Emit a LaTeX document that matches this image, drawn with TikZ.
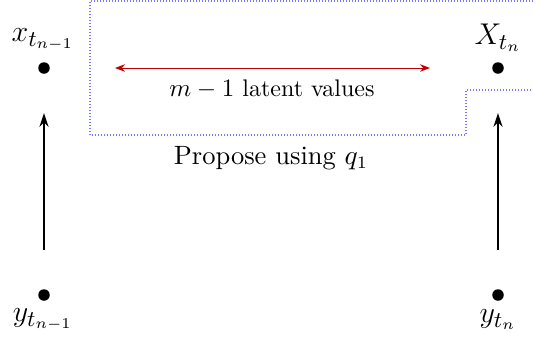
\documentclass[tikz,border=0pt]{standalone}
\usetikzlibrary{arrows.meta}
\begin{document}
\begin{tikzpicture}[x=0.4pt,y=-0.4pt,font=\fontsize{10.6}{12}\selectfont,
  dot/.style={circle,fill=black,inner sep=0pt,minimum size=4.6pt},
  lbl/.style={inner sep=0pt},
  smalllbl/.style={inner sep=0pt,font=\fontsize{9.6}{11}\selectfont},
  biglbl/.style={inner sep=0pt,font=\fontsize{12.6}{14}\selectfont},
  obsarrow/.style={-{Stealth[length=5.5pt,width=3.6pt]},thick},
  latarrow/.style={{Stealth[length=4pt,width=3pt]}-{Stealth[length=4pt,width=3pt]},draw={rgb,255:red,190;green,0;blue,0}},
  propbox/.style={draw={rgb,255:red,120;green,120;blue,255},dash pattern=on 0.4pt off 0.8pt,line width=0.5pt}]
\useasboundingbox (0,0) rectangle (533,342);
\begin{scope}
\clip (0,0) rectangle (533,342);
\draw[propbox] (560,1) -- (90,1) -- (90,135) -- (466,135) -- (466,90) -- (560,90);
\end{scope}
\node[dot] (x1) at (44,68) {};
\node[dot] (x2) at (498,68) {};
\node[dot] (y1) at (44,295) {};
\node[dot] (y2) at (498,295) {};
\node[biglbl] (lx1) at (43,40) {$x_{t_{n-1}}$};
\node[biglbl] (lx2) at (498,38) {$X_{t_n}$};
\node[biglbl] (ly1) at (43,320) {$y_{t_{n-1}}$};
\node[biglbl] (ly2) at (498,320) {$y_{t_n}$};
\coordinate (a1s) at (44,250);
\coordinate (a1e) at (44,113);
\coordinate (a2s) at (498,250);
\coordinate (a2e) at (498,113);
\draw[obsarrow] (a1s) -- (a1e);
\draw[obsarrow] (a2s) -- (a2e);
\coordinate (ls) at (115,68);
\coordinate (le) at (430,68);
\draw[latarrow] (ls) -- (le);
\node[smalllbl] (lv) at (272,89) {$m-1$ latent values};
\node[lbl] (pq) at (271,158) {Propose using $q_1$};
\end{tikzpicture}
\end{document}
